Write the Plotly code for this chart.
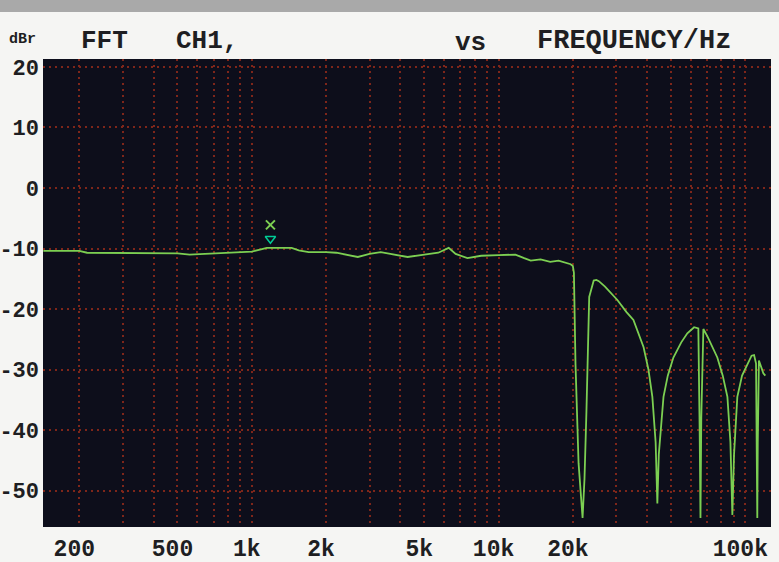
import plotly.graph_objects as go

# ---------------- data ----------------
freq_hz = [143, 180, 200, 215, 300, 400, 500, 560, 650, 750, 900, 1000, 1080, 1150,
           1300, 1450, 1550, 1700, 2000, 2200, 2690, 3000, 3330, 3800, 4280, 5000,
           5700, 6280, 6700, 7480, 8500, 10000, 11700, 12700, 13500, 14800, 16200,
           17500, 18700, 19600, 20000, 20200, 20500, 21100, 21900, 22300, 22700,
           23300, 24300, 24900, 25500, 27000, 30300, 33000, 35200, 38700, 40500,
           42000, 43300, 44000, 44600, 46600, 48500, 51100, 55000, 58200, 62000,
           64500, 65300, 65800, 66300, 67600, 70200, 74000, 77000, 81000, 84600,
           87000, 88600, 90000, 92800, 97000, 101900, 106000, 108500, 110500,
           111300, 111800, 112300, 113500, 118300, 120500]
level_dbr = [-10.4, -10.4, -10.4, -10.7, -10.7, -10.7, -10.8, -11.0, -10.9, -10.7, -10.6,
             -10.5, -10.2, -9.9, -9.9, -9.9, -10.3, -10.6, -10.6, -10.7, -11.4, -10.9,
             -10.6, -11.0, -11.4, -11.0, -10.7, -9.9, -10.9, -11.6, -11.2, -11.1, -11.0,
             -11.6, -12.0, -11.8, -12.2, -12.0, -12.3, -12.6, -12.9, -14.0, -29.0,
             -45.5, -54.5, -48.0, -37.0, -18.0, -15.3, -15.2, -15.4, -16.3, -18.5,
             -20.5, -21.8, -26.3, -30.0, -34.5, -42.0, -52.1, -44.0, -34.5, -31.0,
             -28.0, -25.5, -24.0, -23.0, -23.2, -40.0, -54.5, -38.0, -23.3, -24.5,
             -26.5, -28.0, -31.0, -34.5, -42.0, -54.0, -44.0, -34.5, -31.0, -29.0,
             -27.7, -27.6, -29.0, -45.0, -54.5, -42.0, -28.5, -30.6, -31.0]

cursor_freq = [1190]
cursor_x_db = [-6.1]
cursor_tri_db = [-8.4]

x_tick_vals = [200, 500, 1000, 2000, 5000, 10000, 20000, 100000]
x_tick_text = ["200", "500", "1k", "2k", "5k", "10k", "20k", "100k"]
y_tick_vals = [20, 10, 0, -10, -20, -30, -40, -50]
y_tick_text = ["20", "10", "0", "-10", "-20", "-30", "-40", "-50"]

minor_vals = [m * 10 ** d for d in (2, 3, 4, 5) for m in range(1, 10)]
decades = [3, 4, 5]  # log10 of 1k, 10k, 100k

# ---------------- layout geometry ----------------
W, H = 779, 562
L, R, T, B = 43, 771, 59, 527


def px_x(px):
    return (px - L) / (R - L)


def px_y(py):
    return (B - py) / (B - T)


GREEN = "#7ccf52"
GRID = "#7e261a"
DEC = "#84361f"
TXT = "#1e1e22"
MONO = "Liberation Mono"

fig = go.Figure()

fig.add_trace(go.Scatter(
    x=freq_hz, y=level_dbr, mode="lines",
    line=dict(color=GREEN, width=1.8), hoverinfo="skip", showlegend=False))

fig.add_trace(go.Scatter(
    x=cursor_freq, y=cursor_x_db, mode="markers",
    marker=dict(symbol="x-thin", size=9, line=dict(color=GREEN, width=2)),
    showlegend=False, hoverinfo="skip"))
fig.add_trace(go.Scatter(
    x=cursor_freq, y=cursor_tri_db, mode="markers",
    marker=dict(symbol="triangle-down-open", size=9, line=dict(color=GREEN, width=1.5)),
    showlegend=False, hoverinfo="skip"))

for d in decades:
    fig.add_shape(type="line", xref="x", yref="paper", x0=d, x1=d, y0=0, y1=1,
                  line=dict(color=DEC, width=1.5), layer="below")

# grey strip across the top of the photo
fig.add_shape(type="rect", xref="paper", yref="paper",
              x0=px_x(0), x1=px_x(W), y0=px_y(0), y1=px_y(12),
              fillcolor="#a9a9a9", line=dict(width=0), layer="below")

headers = [("dBr", 7, 40, 15), ("FFT", 79, 41, 26), ("CH1,", 174, 41, 26),
           ("vs", 453, 43, 26), ("FREQUENCY/Hz", 535, 41, 27)]
for text, x0, yc, size in headers:
    fig.add_annotation(text=text, xref="paper", yref="paper", x=px_x(x0), y=px_y(yc),
                       xanchor="left", yanchor="middle", showarrow=False,
                       font=dict(family=MONO, size=size, color=TXT, weight="bold"))

fig.update_layout(
    width=W, height=H,
    margin=dict(l=L, r=W - R, t=T, b=H - B, pad=0, autoexpand=False),
    paper_bgcolor="#f5f5f3",
    plot_bgcolor="#0d0e1b",
    showlegend=False,
    xaxis=dict(
        type="log", range=[2.154, 5.104], automargin=False,
        tickvals=x_tick_vals, ticktext=x_tick_text,
        showgrid=False, zeroline=False, showline=False, ticks="",
        ticklabelstandoff=5, ticklabelshift=-5,
        tickfont=dict(family=MONO, size=23, color=TXT, weight="bold"),
        minor=dict(tickvals=minor_vals, showgrid=True, gridcolor=GRID,
                   griddash="2px,4px", gridwidth=1.6, ticks=""),
    ),
    yaxis=dict(
        range=[-56, 21.3], automargin=False,
        tickvals=y_tick_vals, ticktext=y_tick_text,
        showgrid=True, gridcolor=GRID, griddash="2px,4px", gridwidth=1.6,
        zeroline=False, showline=False, ticks="",
        ticklabelstandoff=3,
        tickfont=dict(family=MONO, size=22, color=TXT, weight="bold"),
    ),
)

fig.write_html(
    "out.html",
    config={"displayModeBar": False},
    post_script="document.body.style.margin='0';"
                "document.body.style.background='#f5f5f3';"
                "document.body.style.overflow='hidden';",
)
